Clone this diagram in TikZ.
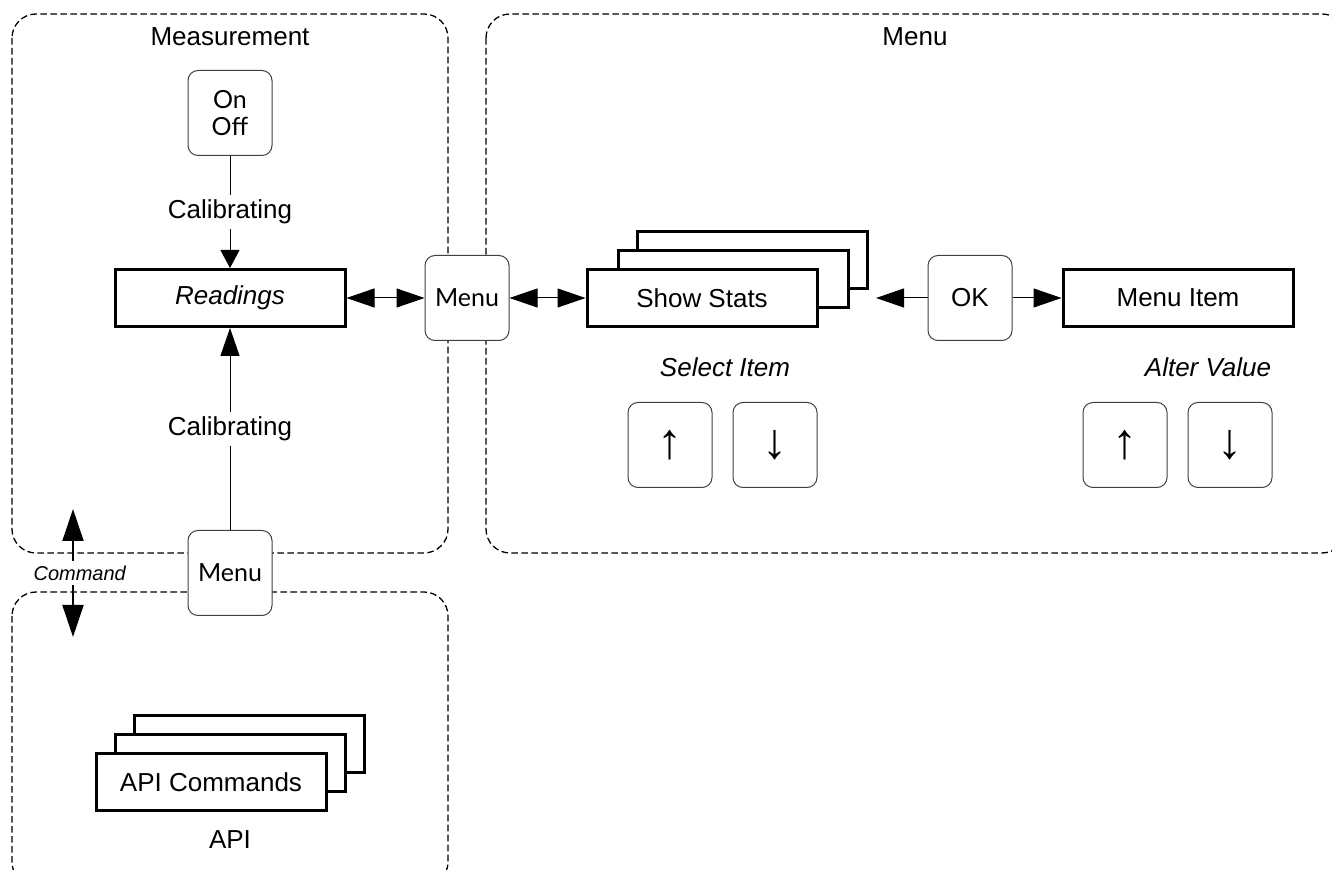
\documentclass[tikz,border=0pt]{standalone}
\usepackage{fontspec}
\setmainfont{Liberation Sans}
\newfontfamily\btnfont{Lato}
\usetikzlibrary{arrows.meta,positioning}

\tikzset{
	>={Triangle[length=14pt,width=9.5pt]},
	region/.style={draw,line width=0.65pt,dash pattern=on 3.3pt off 1.7pt,rounded corners=12pt},
	btn/.style={draw=black!75,fill=white,line width=0.5pt,rounded corners=5pt,inner sep=0pt,
		minimum width=42pt,minimum height=42.5pt,align=center},
	keybtn/.style={btn,minimum width=42pt,font=\fontsize{25}{25}\selectfont},
	card/.style={draw,fill=white,line width=1.5pt,inner sep=0pt,minimum width=115pt,minimum height=28.5pt},
	lbl/.style={fill=white,inner sep=2.5pt},
	link/.style={line width=0.5pt}
}

\begin{document}
\begin{tikzpicture}[x=0.5pt,y=-0.5pt,every node/.style={font=\fontsize{13}{15}\selectfont}]
	\useasboundingbox (0,0) rectangle (1332,870);
	\clip (0,0) rectangle (1332,870);

	% dashed areas
	\draw[region] (12,14) rectangle (448,553);
	\draw[region] (486,14) rectangle (1346,553);
	\draw[region] (12,592) rectangle (448,886);
	\path (230,37) node (meastitle) {Measurement}
		  (915,37) node (menutitle) {Menu}
		  (230,840) node (apititle) {API};

	% measurement
	\path (230,113) node (onoff) [btn,font=\btnfont\fontsize{12.5}{13.5}\selectfont] {On\\Off}
		  (230,298) node (read) [card] {\textit{Readings}}
		  (467,298) node (menu1) [btn,font=\btnfont\fontsize{12.5}{13.5}\selectfont] {Menu}
		  (230,573) node (menu2) [btn,font=\btnfont\fontsize{12.5}{13.5}\selectfont] {Menu};

	% menu
	\path (752,260) node (stats3) [card] {}
		  (733,279) node (stats2) [card] {}
		  (702,298) node (stats) [card] {Show Stats}
		  (970,298) node (ok) [btn] {OK}
		  (1178,298) node (item) [card] {Menu Item}
		  (725,367) node (selitem) {\textit{Select Item}}
		  (1208,367) node (altval) {\textit{Alter Value}}
		  (670,445) node (up1) [keybtn] {↑}
		  (775,445) node (dn1) [keybtn] {↓}
		  (1125,445) node (up2) [keybtn] {↑}
		  (1230,445) node (dn2) [keybtn] {↓};
	\coordinate (statsend) at (876,298);

	% api
	\path (249,744) node (api3) [card] {}
		  (230,763) node (api2) [card] {}
		  (211,782) node (api) [card] {API Commands};

	\draw[link,-{Triangle[length=9pt,width=9.5pt]}] (onoff) -- node[lbl] {Calibrating} (read);
	\draw[link,->] (menu2) -- node[lbl] {Calibrating} (read);
	\draw[link,<->] (read) -- (menu1);
	\draw[link,<->] (menu1) -- (stats);
	\draw[link,->] (ok) -- (statsend);
	\draw[link,->] (ok) -- (item);

	% command
	\coordinate (cmdtop) at (73,509);
	\coordinate (cmdbot) at (73,637);
	\draw[line width=1pt,{Triangle[length=16pt,width=10.5pt]}-{Triangle[length=16pt,width=10.5pt]}] (cmdtop) -- (cmdbot);
	\path (80,573) node (cmd) [lbl,font=\fontsize{10}{12}\selectfont] {\textit{Command}};
\end{tikzpicture}
\end{document}
